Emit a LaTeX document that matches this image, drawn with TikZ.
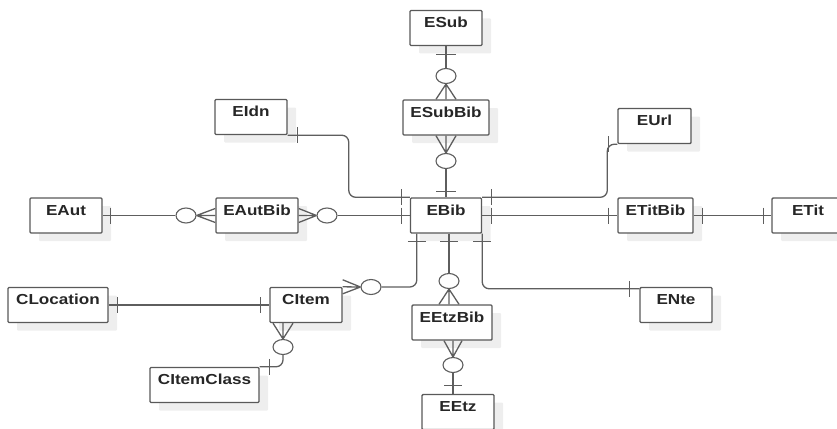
\documentclass[tikz,border=0pt]{standalone}
\usepackage{fontspec}
\setmainfont{Liberation Sans}[FakeStretch=1.18]
\usetikzlibrary{shapes.geometric,shadows,calc}

\definecolor{boxline}{HTML}{595959}
\definecolor{relline}{HTML}{5E5E5E}
\definecolor{shade}{HTML}{EEEEEE}

\tikzset{
  entity/.style={draw=boxline, line width=1.4pt, fill=white, rounded corners=1pt,
    inner sep=0pt, text height=17pt, text depth=18pt, minimum width=72pt,
    font=\fontsize{14.5}{16}\selectfont\bfseries, text=black!85,
    drop shadow={shadow xshift=9pt, shadow yshift=-8pt, fill=shade, opacity=1}},
  rel/.style={draw=relline, line width=1.3pt, rounded corners=7pt},
  opt/.style={ellipse, draw=relline, line width=1.1pt, fill=white, inner sep=0pt,
    minimum width=20pt, minimum height=15pt},
}

\begin{document}
\begin{tikzpicture}[x=1pt,y=-1pt]
\useasboundingbox (0,0) rectangle (837,428);
\clip (0,0) rectangle (837,428);

% entities
\node[entity] (ESub) at (446,28) {ESub};
\node[entity, minimum width=86pt] (ESubBib) at (446,117.5) {ESubBib};
\node[entity] (EIdn) at (251,117) {EIdn};
\node[entity, minimum width=73pt] (EUrl) at (654.5,126) {EUrl};
\node[entity] (EAut) at (66,215.5) {EAut};
\node[entity, minimum width=82pt] (EAutBib) at (257,215.5) {EAutBib};
\node[entity, minimum width=71pt] (EBib) at (446,215.5) {EBib};
\node[entity, minimum width=75pt] (ETitBib) at (655.5,215.5) {ETitBib};
\node[entity] (ETit) at (808,215.5) {ETit};
\node[entity, minimum width=100pt] (CLocation) at (58,305) {CLocation};
\node[entity] (CItem) at (306,305) {CItem};
\node[entity, minimum width=109pt] (CItemClass) at (204.5,385) {CItemClass};
\node[entity, minimum width=80pt] (EEtzBib) at (452,322.5) {EEtzBib};
\node[entity] (EEtz) at (458,412) {EEtz};
\node[entity] (ENte) at (676,305) {ENte};

% optional ends
\node[opt] (o1) at (446,76) {};
\node[opt] (o2) at (446,161) {};
\node[opt] (o3) at (186,215.5) {};
\node[opt] (o4) at (327,215.5) {};
\node[opt] (o5) at (371,287) {};
\node[opt] (o6) at (449,281) {};
\node[opt] (o7) at (453,365) {};
\node[opt] (o8) at (283,347) {};

% ESub - ESubBib
\draw[rel] (ESub) -- (o1);
\draw[rel] ([yshift=-8pt]ESub.south) ++(-10,0) -- ++(20,0);
\draw[rel] (o1.south) -- (ESubBib.north) (o1.south) -- ([xshift=-10pt]ESubBib.north) (o1.south) -- ([xshift=10pt]ESubBib.north);

% ESubBib - EBib
\draw[rel] (o2.north) -- (ESubBib.south) (o2.north) -- ([xshift=-10pt]ESubBib.south) (o2.north) -- ([xshift=10pt]ESubBib.south);
\draw[rel] (o2) -- (EBib);
\draw[rel] ([yshift=6pt]EBib.north) ++(-10,0) -- ++(20,0);

% EAut - EAutBib
\draw[rel] (EAut) -- (o3);
\draw[rel] ([xshift=8pt]EAut.east) ++(0,-8) -- ++(0,16);
\draw[rel] (o3.east) -- (EAutBib.west) (o3.east) -- ([yshift=7pt]EAutBib.west) (o3.east) -- ([yshift=-7pt]EAutBib.west);

% EAutBib - EBib
\draw[rel] (o4.west) -- (EAutBib.east) (o4.west) -- ([yshift=7pt]EAutBib.east) (o4.west) -- ([yshift=-7pt]EAutBib.east);
\draw[rel] (o4) -- (EBib);
\draw[rel] ([xshift=-8pt]EBib.west) ++(0,-8) -- ++(0,16);

% EIdn - EBib
\draw[rel] (EIdn.south east) -| ($(EIdn.south east)!0.5!(EBib.north west)$) |- (EBib.north west);
\draw[rel] ([xshift=10pt]EIdn.south east) ++(0,-8) -- ++(0,16);
\draw[rel] ([xshift=-8pt]EBib.north west) ++(0,-8) -- ++(0,16);

% EUrl - EBib
\draw[rel] (EUrl.south west) -- ++(-10,0) |- (EBib.north east);
\draw[rel] ([xshift=-9pt]EUrl.south west) ++(0,-8) -- ++(0,16);
\draw[rel] ([xshift=9pt]EBib.north east) ++(0,-8) -- ++(0,16);

% EBib - ETitBib - ETit
\draw[rel] (EBib) -- (ETitBib);
\draw[rel] ([xshift=9pt]EBib.east) ++(0,-8) -- ++(0,16);
\draw[rel] ([xshift=-9pt]ETitBib.west) ++(0,-8) -- ++(0,16);
\draw[rel] (ETitBib) -- (ETit);
\draw[rel] ([xshift=9pt]ETitBib.east) ++(0,-8) -- ++(0,16);
\draw[rel] ([xshift=-8pt]ETit.west) ++(0,-8) -- ++(0,16);

% EBib - CItem
\draw[rel] ([xshift=7pt]EBib.south west) |- (o5.east);
\draw[rel] ([xshift=7pt,yshift=-8pt]EBib.south west) ++(-9,0) -- ++(18,0);
\draw[rel] (o5.west) -- (CItem.north east) (o5.west) -- ([yshift=7pt]CItem.north east) (o5.west) -- ([yshift=-7pt]CItem.north east);

% EBib - EEtzBib
\draw[rel] ([xshift=3pt]EBib.south) -- (o6);
\draw[rel] ([xshift=3pt,yshift=-8pt]EBib.south) ++(-9,0) -- ++(18,0);
\draw[rel] (o6.south) -- (o6.south |- EEtzBib.north)
  (o6.south) -- ($(o6.south |- EEtzBib.north)+(-10,0)$)
  (o6.south) -- ($(o6.south |- EEtzBib.north)+(10,0)$);

% EEtzBib - EEtz
\draw[rel] (o7.north) -- (o7.north |- EEtzBib.south)
  (o7.north) -- ($(o7.north |- EEtzBib.south)+(-9,0)$)
  (o7.north) -- ($(o7.north |- EEtzBib.south)+(9,0)$);
\draw[rel] (o7.south) -- (o7.south |- EEtz.north);
\draw[rel] ($(o7 |- EEtz.north)+(-9,-8)$) -- ++(18,0);

% EBib - ENte
\draw[rel] (EBib.south east) |- ([yshift=-2pt]ENte.north west);
\draw[rel] ([yshift=-8pt]EBib.south east) ++(-9,0) -- ++(18,0);
\draw[rel] ([xshift=-10pt,yshift=-2pt]ENte.north west) ++(0,-8) -- ++(0,16);

% CLocation - CItem
\draw[rel] (CLocation) -- (CItem);
\draw[rel] ([xshift=9pt]CLocation.east) ++(0,-8) -- ++(0,16);
\draw[rel] ([xshift=-9pt]CItem.west) ++(0,-8) -- ++(0,16);

% CItem - CItemClass
\draw[rel] (o8.north) -- (o8.north |- CItem.south)
  (o8.north) -- ($(o8.north |- CItem.south)+(-10,0)$)
  (o8.north) -- ($(o8.north |- CItem.south)+(10,0)$);
\draw[rel] (o8.south) |- (CItemClass.north east);
\draw[rel] ([xshift=10pt]CItemClass.north east) ++(0,-8) -- ++(0,16);
\end{tikzpicture}
\end{document}
